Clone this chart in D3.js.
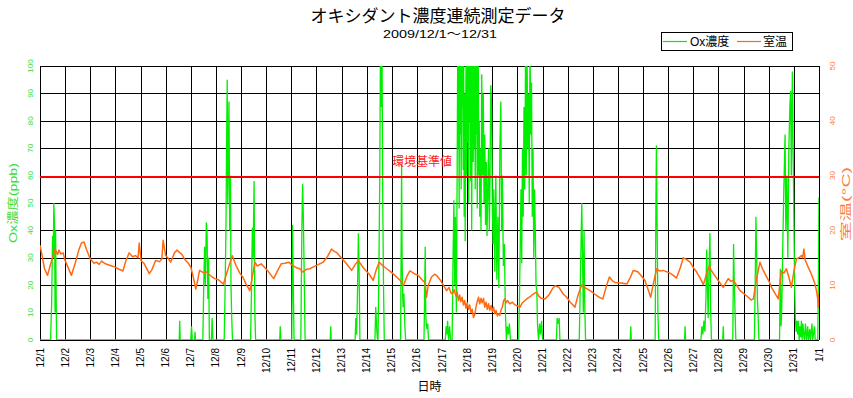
<!DOCTYPE html>
<html>
<head>
<meta charset="utf-8">
<script src="https://cdn.jsdelivr.net/npm/d3@7"></script>
<style>
body{margin:0;background:#fff}
svg{display:block;font-family:"Liberation Sans","Noto Sans CJK JP",sans-serif}
</style>
</head>
<body>
<svg id="chart" width="853" height="398"></svg>
<script>
// tick labels
var dayLabels = ["12/1","12/2","12/3","12/4","12/5","12/6","12/7","12/8","12/9","12/10",
  "12/11","12/12","12/13","12/14","12/15","12/16","12/17","12/18","12/19","12/20",
  "12/21","12/22","12/23","12/24","12/25","12/26","12/27","12/28","12/29","12/30","12/31","1/1"]
var oxTicks = [0,10,20,30,40,50,60,70,80,90,100]
var tempTicks = [0,10,20,30,40,50]
var standardPpb = 60

// room temperature, [day since 12/1 0:00, degC]
var tempSeries = [
[0,17.3],[0.08,15.5],[0.18,13.0],[0.30,11.8],[0.40,13.5],[0.50,15.0],[0.60,16.6],[0.70,15.6],[0.75,16.4],[0.83,15.7],[0.92,15.9],
[1.00,14.5],[1.12,13.2],[1.25,11.8],[1.40,14.0],[1.55,16.5],[1.65,17.7],[1.75,17.9],[1.85,16.5],
[2.00,14.8],[2.15,14.0],[2.25,14.2],[2.35,13.8],[2.45,14.4],[2.60,13.9],[2.80,13.6],
[3.00,13.3],[3.15,12.9],[3.30,12.6],[3.42,14.5],[3.55,15.9],[3.68,15.2],[3.80,15.4],[3.90,15.0],[3.95,17.7],
[4.02,14.5],[4.15,13.9],[4.35,12.1],[4.45,12.8],[4.60,14.5],[4.75,14.3],[4.85,14.8],[4.90,18.2],
[5.00,15.4],[5.10,14.9],[5.20,14.2],[5.35,15.9],[5.45,16.4],[5.55,16.0],[5.65,15.6],[5.75,14.8],[5.90,14.0],
[6.00,13.3],[6.10,11.5],[6.20,9.3],[6.28,11.0],[6.35,12.7],[6.50,12.3],[6.60,12.5],[6.70,12.1],[6.85,11.5],[6.95,11.2],
[7.10,11.0],[7.30,10.2],[7.45,12.5],[7.65,15.4],[7.80,13.6],[7.95,12.2],
[8.07,11.5],[8.20,10.2],[8.35,9.0],[8.45,11.5],[8.55,14.2],[8.65,13.5],[8.80,13.9],[8.95,13.2],
[9.05,12.7],[9.20,11.8],[9.30,11.2],[9.45,12.6],[9.60,13.9],[9.75,14.0],[9.90,14.2],
[10.05,13.6],[10.20,13.2],[10.34,13.0],[10.45,12.4],[10.60,12.9],[10.74,13.0],[10.90,13.4],
[11.05,13.7],[11.27,14.2],[11.45,15.3],[11.60,16.6],[11.70,16.2],[11.80,16.0],
[12.00,14.9],[12.20,13.9],[12.40,12.7],[12.55,13.8],[12.67,14.5],[12.80,13.6],[12.90,13.0],
[13.10,12.0],[13.26,10.9],[13.38,12.8],[13.50,14.2],[13.65,13.5],[13.80,13.0],
[14.00,12.3],[14.19,11.5],[14.35,10.8],[14.46,9.9],[14.60,11.6],[14.72,12.6],[14.90,12.1],
[15.05,11.8],[15.20,11.0],[15.32,10.5],[15.38,7.8],[15.45,10.0],[15.58,11.5],[15.70,12.0],[15.78,11.8],[15.95,10.8],
[16.05,10.0],[16.18,9.0],[16.28,9.6],[16.35,8.6],[16.42,8.4],[16.48,9.2],[16.55,8.0],[16.60,8.8],[16.65,7.2],[16.70,8.2],
[16.75,7.0],[16.80,7.8],[16.85,6.4],[16.90,7.2],[16.95,5.8],[17.00,6.8],[17.05,5.6],[17.10,6.4],[17.15,5.0],[17.20,5.6],
[17.25,4.1],[17.30,4.6],[17.35,6.0],[17.40,7.0],[17.45,7.8],[17.50,6.6],[17.55,7.6],[17.60,6.8],[17.65,7.6],[17.70,6.0],
[17.75,6.9],[17.80,5.6],[17.85,6.6],[17.90,5.4],[17.95,6.3],[18.00,5.2],[18.05,6.0],[18.10,4.8],[18.15,5.4],[18.20,4.4],
[18.25,4.8],[18.30,4.5],[18.35,5.6],[18.40,6.0],[18.45,7.2],[18.50,7.5],[18.55,6.8],[18.60,7.2],[18.70,6.6],[18.80,6.9],
[18.90,6.4],[19.00,6.2],[19.10,6.0],[19.20,6.8],[19.30,7.2],[19.40,7.6],[19.50,7.9],[19.60,8.3],[19.70,8.6],[19.77,8.7],
[19.85,8.0],[19.95,7.6],[20.10,7.5],[20.25,8.2],[20.40,9.4],[20.50,9.9],[20.65,9.6],[20.82,8.4],[20.96,7.8],
[21.10,6.9],[21.29,6.0],[21.40,8.0],[21.56,10.1],[21.70,9.5],[21.89,9.0],
[22.10,8.3],[22.29,7.7],[22.40,7.5],[22.55,10.0],[22.66,11.5],[22.78,10.8],[22.88,10.5],
[23.15,10.4],[23.35,10.2],[23.50,11.5],[23.61,12.7],[23.70,12.6],[23.80,12.4],[23.95,11.6],
[24.07,10.9],[24.20,9.2],[24.30,7.8],[24.42,10.5],[24.54,13.0],[24.65,12.6],[24.80,12.7],
[25.07,12.2],[25.20,11.8],[25.33,11.3],[25.48,13.2],[25.60,15.0],[25.72,14.7],[25.87,14.2],
[26.00,13.2],[26.13,12.4],[26.28,11.2],[26.40,10.1],[26.52,12.0],[26.64,13.6],[26.70,12.8],[26.80,12.1],
[27.00,10.8],[27.19,9.6],[27.30,10.5],[27.39,11.2],[27.50,10.7],[27.59,10.9],[27.72,10.0],[27.86,9.0],
[28.05,8.3],[28.19,7.8],[28.30,7.3],[28.39,7.5],[28.50,10.8],[28.65,14.2],[28.75,13.0],[28.85,12.1],
[29.00,10.8],[29.11,9.6],[29.25,8.5],[29.38,7.5],[29.44,10.0],[29.50,12.6],[29.60,12.2],[29.70,13.0],[29.80,11.5],[29.90,9.6],
[30.00,12.5],[30.10,14.8],[30.20,15.0],[30.30,15.4],[30.35,15.0],[30.40,16.6],[30.45,14.6],[30.57,13.3],[30.70,12.0],
[30.84,10.2],[30.90,9.0],[30.95,7.5],[30.97,6.0],[31.00,8.4]
]

// oxidant concentration, [day since 12/1 0:00, ppb]; values above 100 run off the top
var oxSeries = [
[0,0],[0.42,0],[0.46,12],[0.50,38],[0.53,30],[0.55,50],[0.58,42],[0.60,10],[0.62,40],[0.64,20],[0.66,0],
[5.54,0],[5.56,7],[5.58,0],
[6.00,0],[6.03,5],[6.06,0],[6.15,0],[6.17,3],[6.19,0],
[6.48,0],[6.52,22],[6.55,34],[6.58,20],[6.62,43],[6.65,38],[6.68,15],[6.71,30],[6.74,0],[6.82,0],[6.85,8],[6.88,0],
[7.33,0],[7.36,15],[7.40,40],[7.42,65],[7.45,95],[7.47,50],[7.50,70],[7.52,87],[7.55,40],[7.58,60],[7.60,20],[7.63,8],[7.66,0],
[8.38,0],[8.42,20],[8.45,41],[8.48,30],[8.52,58],[8.55,10],[8.58,0],
[9.54,0],[9.56,5],[9.58,0],
[10.02,0],[10.05,42],[10.08,20],[10.11,0],
[10.38,0],[10.42,40],[10.45,57],[10.48,45],[10.52,20],[10.55,0],
[11.55,0],[11.57,5],[11.59,0],
[12.54,0],[12.57,8],[12.60,2],[12.63,15],[12.67,39],[12.70,25],[12.73,0],
[13.33,0],[13.36,12],[13.40,4],[13.43,0],
[13.45,0],[13.48,20],[13.52,58],[13.55,110],[13.58,85],[13.61,108],[13.64,50],[13.67,20],[13.70,0],
[14.35,0],[14.39,64],[14.41,30],[14.43,17],[14.45,12],[14.48,17],[14.52,5],[14.55,0],
[15.28,0],[15.30,12],[15.33,34],[15.35,10],[15.37,6],[15.40,4],[15.43,6],[15.46,0],
[16.13,0],[16.16,5],[16.19,2],[16.22,7],[16.26,0],[16.30,5],[16.34,0],
[16.40,0],[16.43,25],[16.47,51],[16.50,20],[16.53,45],[16.57,10],[16.60,60],[16.62,100],[16.64,70],[16.66,108],
[16.68,48],[16.70,110],[16.72,75],[16.74,105],[16.76,55],[16.78,100],[16.80,85],[16.82,110],[16.84,62],[16.86,104],
[16.88,45],[16.90,90],[16.92,36],[16.94,80],[16.96,108],[16.98,60],[17.00,100],[17.02,72],[17.04,110],[17.06,50],
[17.08,105],[17.10,80],[17.12,110],[17.14,58],[17.16,100],[17.18,40],[17.20,95],[17.22,110],[17.24,65],[17.26,105],
[17.28,70],[17.30,100],[17.32,55],[17.34,108],[17.36,75],[17.38,100],[17.40,48],[17.42,88],[17.44,104],[17.46,60],
[17.48,80],[17.50,45],[17.52,70],[17.55,40],[17.58,97],[17.61,60],[17.64,90],[17.67,50],[17.70,75],[17.73,42],
[17.76,65],[17.79,38],[17.82,55],[17.85,70],[17.88,40],[17.91,60],[17.94,93],[17.97,85],[18.00,50],[18.03,35],
[18.06,55],[18.10,25],[18.14,60],[18.18,22],[18.22,45],[18.26,19],[18.30,70],[18.34,87],[18.37,40],[18.40,60],
[18.44,27],[18.48,35],[18.52,10],[18.56,0],[18.60,5],[18.64,2],[18.68,6],[18.72,0],
[19.05,0],[19.08,15],[19.11,34],[19.14,55],[19.17,28],[19.20,70],[19.23,45],[19.26,85],[19.29,55],[19.32,100],
[19.35,60],[19.38,108],[19.41,70],[19.44,90],[19.47,50],[19.50,110],[19.53,75],[19.56,94],[19.59,45],[19.62,70],
[19.65,30],[19.68,55],[19.71,40],[19.74,20],[19.77,18],[19.80,5],[19.84,0],[19.88,6],[19.92,2],[19.96,7],[20.00,0],
[20.55,0],[20.58,8],[20.62,6],[20.66,8],[20.69,0],
[21.46,0],[21.50,20],[21.53,35],[21.56,50],[21.59,30],[21.62,10],[21.65,40],[21.68,12],[21.71,0],
[23.49,0],[23.51,5],[23.53,0],
[24.48,0],[24.51,50],[24.53,71],[24.56,40],[24.59,10],[24.62,0],
[25.65,0],[25.67,5],[25.69,0],
[26.30,0],[26.34,5],[26.38,2],[26.42,7],[26.46,3],[26.50,15],[26.53,33],[26.56,20],[26.59,8],[26.62,25],[26.66,39],[26.69,10],[26.72,0],
[27.17,0],[27.19,5],[27.21,0],
[27.57,0],[27.60,35],[27.63,20],[27.66,10],[27.69,0],
[28.43,0],[28.46,20],[28.49,45],[28.52,30],[28.55,15],[28.58,8],[28.61,0],
[29.43,0],[29.46,26],[29.49,5],[29.52,12],[29.56,35],[29.60,55],[29.65,75],[29.68,40],[29.72,60],[29.76,30],
[29.80,70],[29.84,85],[29.87,91],[29.90,60],[29.94,98],[29.97,70],[30.00,45],[30.03,20],[30.06,8],[30.09,3],
[30.12,7],[30.15,2],[30.18,7],[30.21,0],[30.24,5],[30.27,1],[30.30,7],[30.33,0],[30.36,6],[30.39,2],[30.42,0],
[30.46,6],[30.50,0],[30.55,5],[30.58,0],[30.63,4],[30.66,0],[30.72,6],[30.75,0],[30.82,5],[30.85,0],
[30.95,0],[30.98,25],[31.00,52]
]

var green = "#00ee00",
    orange = "#ff6a10",
    red = "#ff0000";

var svg = d3.select("#chart");

var x = d3.scaleLinear().domain([0, dayLabels.length - 1]).range([40, 819]);
var yOx = d3.scaleLinear().domain([0, 100]).range([340, 66]);
var yT = d3.scaleLinear().domain([0, 50]).range([340, 66]);

svg.append("defs").append("clipPath").attr("id", "plotclip")
  .append("rect")
  .attr("x", x(0)).attr("y", yOx(100))
  .attr("width", x(31) - x(0)).attr("height", yOx(0) - yOx(100));

// grid
var grid = svg.append("g").attr("stroke", "#000").attr("stroke-width", 1).attr("shape-rendering", "crispEdges");
grid.selectAll("line.v")
  .data(dayLabels)
  .join("line")
  .attr("class", "v")
  .attr("x1", (d, i) => Math.round(x(i)) + 0.5)
  .attr("x2", (d, i) => Math.round(x(i)) + 0.5)
  .attr("y1", yOx(100)).attr("y2", yOx(0));
grid.selectAll("line.h")
  .data(oxTicks)
  .join("line")
  .attr("class", "h")
  .attr("x1", x(0)).attr("x2", x(31))
  .attr("y1", d => Math.round(yOx(d)) + 0.5)
  .attr("y2", d => Math.round(yOx(d)) + 0.5);

var plot = svg.append("g").attr("clip-path", "url(#plotclip)");

// Ox concentration
plot.append("path")
  .datum(oxSeries)
  .attr("fill", "none")
  .attr("stroke", green)
  .attr("stroke-width", 1.3)
  .attr("d", d3.line().x(d => x(d[0])).y(d => yOx(d[1])));

// room temperature
plot.append("path")
  .datum(tempSeries)
  .attr("fill", "none")
  .attr("stroke", orange)
  .attr("stroke-width", 1.5)
  .attr("stroke-linejoin", "round")
  .attr("d", d3.line().x(d => x(d[0])).y(d => yT(d[1])));

// environmental standard
svg.append("line")
  .attr("x1", x(0)).attr("x2", x(31))
  .attr("y1", Math.round(yOx(standardPpb)) + 0.5).attr("y2", Math.round(yOx(standardPpb)) + 0.5)
  .attr("stroke", red).attr("stroke-width", 2)
  .attr("shape-rendering", "crispEdges");
svg.append("text")
  .attr("x", 422).attr("y", yOx(standardPpb) - 10)
  .attr("text-anchor", "middle")
  .attr("fill", "#ff2020")
  .attr("font-size", 12)
  .attr("font-family", "'Noto Sans CJK JP'")
  .text("環境基準値");

// left axis labels
svg.append("g").selectAll("text")
  .data(oxTicks)
  .join("text")
  .attr("transform", d => "translate(33," + yOx(d) + ") rotate(-90)")
  .attr("text-anchor", "middle")
  .attr("fill", "#33dd33")
  .attr("font-size", 8)
  .text(d => d);

svg.append("text")
  .attr("transform", "translate(17,203) rotate(-90)")
  .attr("text-anchor", "middle")
  .attr("fill", "#33dd33")
  .attr("font-size", 11)
  .attr("textLength", 80)
  .attr("lengthAdjust", "spacingAndGlyphs")
  .text("Ox濃度(ppb)");

// right axis labels
svg.append("g").selectAll("text")
  .data(tempTicks)
  .join("text")
  .attr("transform", d => "translate(835," + yT(d) + ") rotate(-90)")
  .attr("text-anchor", "middle")
  .attr("fill", "#ff7a3a")
  .attr("font-size", 8)
  .text(d => d);

svg.append("text")
  .attr("transform", "translate(850,204) rotate(-90)")
  .attr("text-anchor", "middle")
  .attr("fill", "#ff7a3a")
  .attr("font-size", 11)
  .attr("textLength", 74)
  .attr("lengthAdjust", "spacingAndGlyphs")
  .text("室温(°C)");

// bottom labels
svg.append("g").selectAll("text")
  .data(dayLabels)
  .join("text")
  .attr("transform", (d, i) => "translate(" + (x(i) + 3.5) + ",348) rotate(-90)")
  .attr("text-anchor", "end")
  .attr("fill", "#000")
  .attr("font-size", 10)
  .text(d => d);

svg.append("text")
  .attr("x", (x(0) + x(31)) / 2).attr("y", 391)
  .attr("text-anchor", "middle")
  .attr("font-size", 12)
  .attr("font-family", "'Noto Sans CJK JP'")
  .text("日時");

// titles
svg.append("text")
  .attr("x", 438).attr("y", 22)
  .attr("text-anchor", "middle")
  .attr("font-size", 17)
  .attr("font-family", "'Noto Sans CJK JP'")
  .text("オキシダント濃度連続測定データ");
svg.append("text")
  .attr("x", 440).attr("y", 38)
  .attr("text-anchor", "middle")
  .attr("font-size", 11)
  .attr("textLength", 114)
  .attr("lengthAdjust", "spacingAndGlyphs")
  .text("2009/12/1～12/31");

// legend
var legend = svg.append("g");
legend.append("rect")
  .attr("x", 661.5).attr("y", 32.5).attr("width", 131).attr("height", 18)
  .attr("fill", "#fff").attr("stroke", "#000");
var items = [{name: "Ox濃度", color: green, x: 663, tx: 690}, {name: "室温", color: orange, x: 737, tx: 763}];
legend.selectAll("line")
  .data(items)
  .join("line")
  .attr("x1", d => d.x).attr("x2", d => d.x + 24)
  .attr("y1", 41.5).attr("y2", 41.5)
  .attr("stroke", d => d.color).attr("stroke-width", 1.2);
legend.selectAll("text")
  .data(items)
  .join("text")
  .attr("x", d => d.tx).attr("y", 46)
  .attr("font-size", 12)
  .text(d => d.name);
</script>
</body>
</html>
